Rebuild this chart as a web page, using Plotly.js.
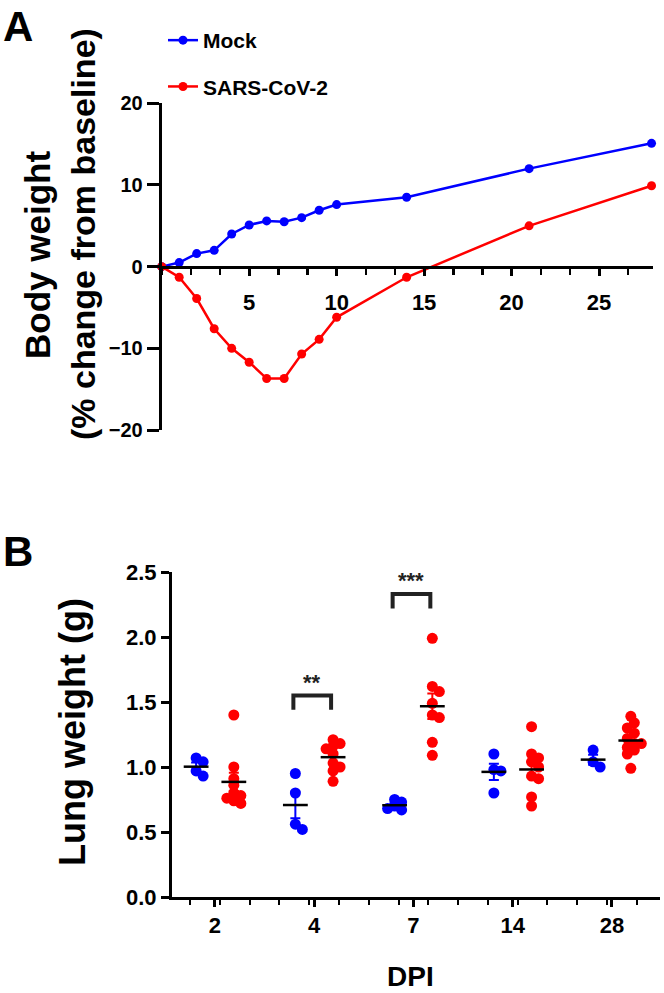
<!DOCTYPE html>
<html><head><meta charset="utf-8">
<script src="https://cdn.plot.ly/plotly-3.0.1.min.js"></script>
<style>html,body{margin:0;padding:0;background:#fff}</style>
</head><body><div id="chart" style="width:664px;height:993px"></div>
<script>
// ---- Panel A data: body weight (% change from baseline)
const days = [0, 1, 2, 3, 4, 5, 6, 7, 8, 9, 10, 14, 21, 28];
const mockWeight = [0, 0.5, 1.6, 2.0, 4.0, 5.1, 5.6, 5.5, 6.0, 6.9, 7.6, 8.5, 12.0, 15.1];
const sarsWeight = [0, -1.3, -3.9, -7.6, -10.0, -11.7, -13.7, -13.7, -10.7, -8.9, -6.2, -1.3, 5.0, 9.9];

// ---- Panel B data: lung weight (g) per DPI
const dpiLabels = ['2', '4', '7', '14', '28'];
const mockLung2 = [1.07, 1.04, 0.97, 0.93];
const mockLung4 = [0.95, 0.80, 0.56, 0.52];
const mockLung7 = [0.75, 0.73, 0.70, 0.68, 0.67];
const mockLung14 = [1.10, 0.98, 0.97, 0.80];
const mockLung28 = [1.13, 1.04, 1.00];
const sarsLung2 = [1.40, 1.00, 0.91, 0.86, 0.80, 0.78, 0.76, 0.74, 0.72];
const sarsLung4 = [1.21, 1.18, 1.16, 1.14, 1.10, 1.03, 1.00, 0.97, 0.89];
const sarsLung7 = [1.99, 1.62, 1.58, 1.49, 1.40, 1.38, 1.19, 1.09];
const sarsLung14 = [1.31, 1.10, 1.07, 1.04, 1.00, 0.93, 0.91, 0.77, 0.70];
const sarsLung28 = [1.39, 1.34, 1.30, 1.26, 1.22, 1.18, 1.18, 1.15, 1.13, 1.10, 0.99];
const sigDpi = ['4', '7'];
const sigText = ['**', '***'];
const sigTop = [1.55, 2.33];

const mockLung = [mockLung2, mockLung4, mockLung7, mockLung14, mockLung28];
const sarsLung = [sarsLung2, sarsLung4, sarsLung7, sarsLung14, sarsLung28];

const BLUE = '#0000ff', RED = '#ff0000';
const SANS = '"Liberation Sans", Arial, sans-serif';

// pixel scale of panel B (used only to spread overlapping dots)
const W = 664, H = 993;
const xB = [172 / W, 660 / W], yB = [1 - 897 / H, 1 - 572 / H];
const xRangeB = [-0.433, 4.484], yRangeB = [0, 2.5];
const pxPerX = (xB[1] - xB[0]) * W / (xRangeB[1] - xRangeB[0]);
const pxPerY = (yB[1] - yB[0]) * H / (yRangeB[1] - yRangeB[0]);

function swarm(values, center) {
  const placed = [];
  const step = 3.5, minD = 6.5;
  return values.map(v => {
    const py = v * pxPerY;
    let off = 0;
    for (let k = 0; k < 20; k++) {
      const cand = k === 0 ? 0 : (k % 2 ? 1 : -1) * Math.ceil(k / 2) * step;
      if (placed.every(p => Math.hypot(p[0] - cand, p[1] - py) >= minD)) { off = cand; break; }
    }
    placed.push([off, py]);
    return center + off / pxPerX;
  });
}
const mean = a => a.reduce((s, v) => s + v, 0) / a.length;
const sem = a => { const m = mean(a); return Math.sqrt(a.reduce((s, v) => s + (v - m) ** 2, 0) / (a.length - 1)) / Math.sqrt(a.length); };

const traces = [];
traces.push({x: days, y: mockWeight, type: 'scatter', mode: 'lines+markers', name: 'Mock',
  line: {color: BLUE, width: 2.5}, marker: {color: BLUE, size: 9}, cliponaxis: false,
  xaxis: 'x', yaxis: 'y', legendgroup: 'm'});
traces.push({x: days, y: sarsWeight, type: 'scatter', mode: 'lines+markers', name: 'SARS-CoV-2',
  line: {color: RED, width: 2.5}, marker: {color: RED, size: 9}, cliponaxis: false,
  xaxis: 'x', yaxis: 'y', legendgroup: 's'});

const OFF = 0.19;
[[mockLung, -OFF, BLUE], [sarsLung, OFF, RED]].forEach(([groups, off, col]) => {
  groups.forEach((vals, i) => {
    const c = i + off;
    traces.push({x: swarm(vals, c), y: vals, type: 'scatter', mode: 'markers', showlegend: false,
      marker: {color: col, size: 11}, xaxis: 'x2', yaxis: 'y2', cliponaxis: false});
    traces.push({x: [c], y: [mean(vals)], type: 'scatter', mode: 'markers', showlegend: false,
      marker: {size: 1, color: 'rgba(0,0,0,0)'},
      error_y: {type: 'data', array: [sem(vals)], color: col, thickness: 2, width: 5},
      xaxis: 'x2', yaxis: 'y2'});
    traces.push({x: [c - 0.125, c + 0.125], y: [mean(vals), mean(vals)], type: 'scatter', mode: 'lines',
      showlegend: false, line: {color: 'black', width: 2.5}, xaxis: 'x2', yaxis: 'y2'});
  });
});

const annotations = [];
sigDpi.forEach((d, j) => {
  const i = dpiLabels.indexOf(d);
  const h = sigTop[j];
  traces.push({x: [i - 0.21, i - 0.21, i + 0.17, i + 0.17], y: [h - 0.11, h, h, h - 0.11],
    type: 'scatter', mode: 'lines', showlegend: false, line: {color: '#222', width: 4},
    xaxis: 'x2', yaxis: 'y2'});
  annotations.push({x: i - 0.02, y: h - 0.01, xref: 'x2', yref: 'y2', text: sigText[j], showarrow: false,
    xanchor: 'center', yanchor: 'bottom', font: {family: SANS, size: 22, color: '#222', weight: 700}});
});

const txt = (text, px, py, size, angle, xa, ya) => ({x: px / W, y: 1 - py / H, xref: 'paper', yref: 'paper',
  text: text, textangle: angle || 0, showarrow: false, xanchor: xa || 'center', yanchor: ya || 'middle',
  font: {family: SANS, size: size, color: 'black', weight: 700}});

annotations.push(
  txt('A', 1, 1, 42, 0, 'left', 'top'),
  txt('B', 1, 526, 42, 0, 'left', 'top'),
  txt('Body weight', 38, 255, 35, -90),
  txt('(% change from baseline)', 83, 234, 34, -90),
  txt('Lung weight (g)', 72, 732, 36, -90),
  txt('DPI', 410, 976, 28, 0)
);

const axisCommon = {showline: true, linecolor: 'black', linewidth: 3, showgrid: false, zeroline: false,
  ticks: 'outside', tickcolor: 'black', tickwidth: 3, fixedrange: true};

const layout = {
  width: W, height: H, margin: {l: 0, r: 0, t: 0, b: 0},
  paper_bgcolor: 'white', plot_bgcolor: 'rgba(0,0,0,0)',
  showlegend: true,
  legend: {x: 163 / W, y: 1 - 20 / H, xanchor: 'left', yanchor: 'top', traceorder: 'grouped',
    tracegroupgap: 16, bgcolor: 'rgba(0,0,0,0)',
    font: {family: SANS, size: 21, color: 'black', weight: 700}},
  xaxis: Object.assign({}, axisCommon, {domain: [161.7 / W, 653.3 / W], range: [0, 28.1],
    anchor: 'free', position: 1 - 266.7 / H, tickvals: [5, 10, 15, 20, 25], ticklen: 7,
    ticklabelstandoff: 8,
    minor: {dtick: 5 / 3, tick0: 0, ticks: 'outside', ticklen: 6, tickwidth: 2.5, tickcolor: 'black'},
    tickfont: {family: SANS, size: 22, color: 'black', weight: 700}}),
  yaxis: Object.assign({}, axisCommon, {domain: [1 - 430 / H, 1 - 103.3 / H], range: [-20, 20],
    anchor: 'x', tickvals: [-20, -10, 0, 10, 20], ticklen: 12,
    tickfont: {family: SANS, size: 20, color: 'black', weight: 700}}),
  xaxis2: Object.assign({}, axisCommon, {domain: xB, range: xRangeB, anchor: 'y2',
    tickvals: [0, 1, 2, 3, 4], ticktext: dpiLabels, ticklen: 7, ticklabelstandoff: 0,
    minor: {dtick: 0.3, tick0: -0.25, ticks: 'outside', ticklen: 5, tickwidth: 2, tickcolor: 'black'},
    tickfont: {family: SANS, size: 22, color: 'black', weight: 700}}),
  yaxis2: Object.assign({}, axisCommon, {domain: yB, range: yRangeB, anchor: 'x2',
    tickvals: [0, 0.5, 1, 1.5, 2, 2.5], tickformat: '.1f', ticklen: 8,
    tickfont: {family: SANS, size: 22, color: 'black', weight: 700}}),
  annotations: annotations
};

Plotly.newPlot('chart', traces, layout, {displayModeBar: false, staticPlot: true});
</script></body></html>
